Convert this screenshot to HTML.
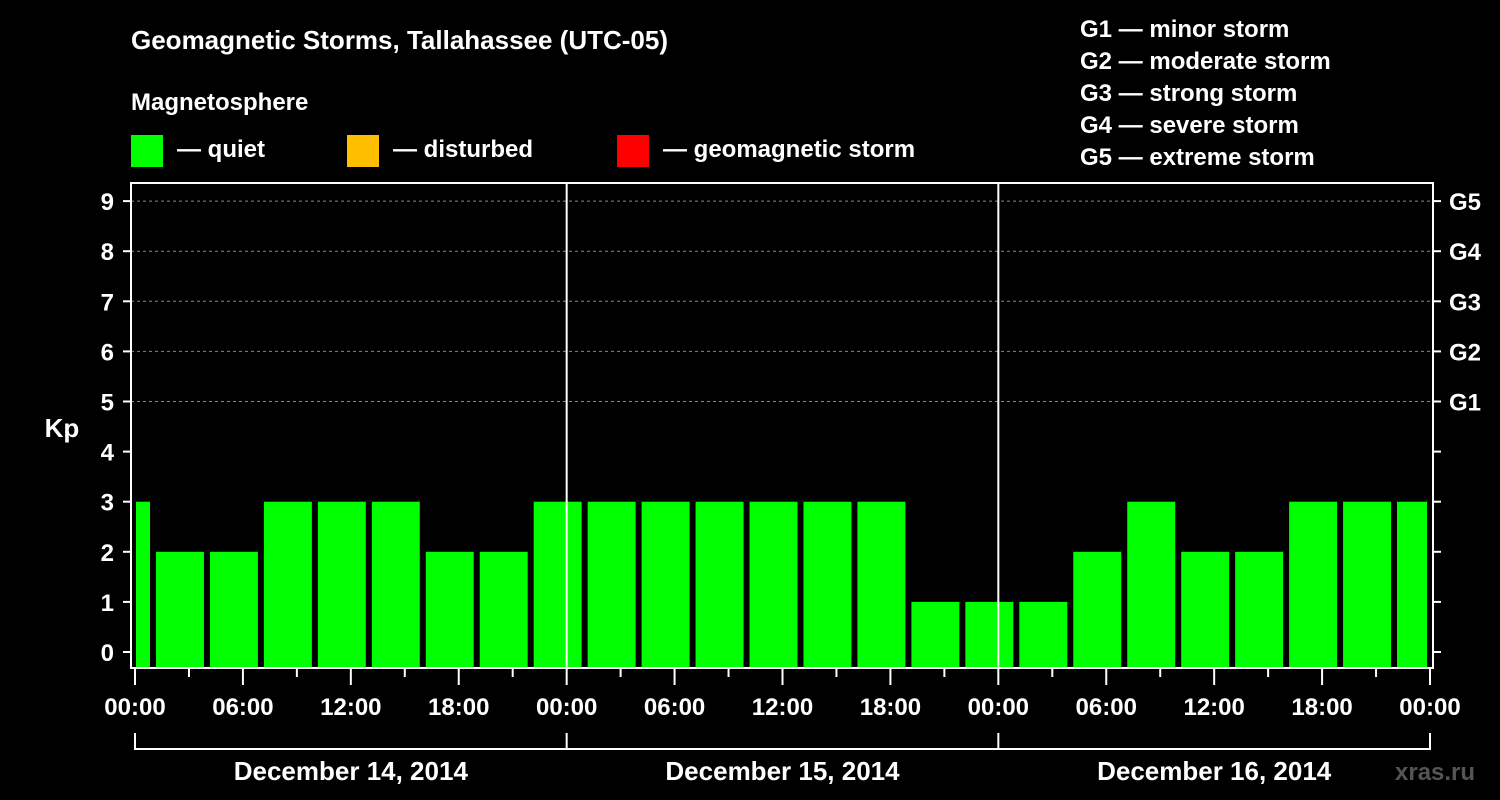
<!DOCTYPE html>
<html><head><meta charset="utf-8"><style>
html,body{margin:0;padding:0;background:#000;}
svg{display:block;font-family:"Liberation Sans",Arial,sans-serif;font-weight:bold;}
</style></head><body>
<svg id="chart" width="1500" height="800" viewBox="0 0 1500 800">
<rect x="0" y="0" width="1500" height="800" fill="#000"/>
<text x="131" y="49" fill="#fff" font-size="26">Geomagnetic Storms, Tallahassee (UTC-05)</text>
<text x="131" y="110" fill="#fff" font-size="24">Magnetosphere</text>
<g><rect x="131" y="135" width="32" height="32" fill="#00ff00"/><text x="177" y="157" fill="#fff" font-size="24">— quiet</text></g>
<g><rect x="347" y="135" width="32" height="32" fill="#ffbf00"/><text x="393" y="157" fill="#fff" font-size="24">— disturbed</text></g>
<g><rect x="617" y="135" width="32" height="32" fill="#ff0000"/><text x="663" y="157" fill="#fff" font-size="24">— geomagnetic storm</text></g>
<g fill="#fff" font-size="24">
<text x="1080" y="37">G1 — minor storm</text>
<text x="1080" y="69">G2 — moderate storm</text>
<text x="1080" y="101">G3 — strong storm</text>
<text x="1080" y="133">G4 — severe storm</text>
<text x="1080" y="165">G5 — extreme storm</text>
</g>
<text x="62" y="437" fill="#fff" font-size="26" text-anchor="middle">Kp</text>
<g id="grid"></g>
<g id="bars"></g>
<g id="axes"></g>
<text x="1395" y="780" fill="#555" font-size="24">xras.ru</text>
</svg>
<script>
const binStartHours = [-2,1,4,7,10,13,16,19,22,25,28,31,34,37,40,43,46,49,52,55,58,61,64,67,70];
const kpValues = [3,2,2,3,3,3,2,2,3,3,3,3,3,3,3,1,1,1,2,3,2,2,3,3,3];
const yTicks = [0,1,2,3,4,5,6,7,8,9];
const gLabels = ["G1","G2","G3","G4","G5"];
const xTickLabels = ["00:00","06:00","12:00","18:00","00:00","06:00","12:00","18:00","00:00","06:00","12:00","18:00","00:00"];
const dayLabels = ["December 14, 2014","December 15, 2014","December 16, 2014"];

const NS="http://www.w3.org/2000/svg";
const X0=135,X1=1430,H=72,PL=131,PR=1433,PT=183,PB=668;
const x=h=>X0+(X1-X0)*h/H;
const y=v=>652-v*50.1;
function mk(t,a,p){const e=document.createElementNS(NS,t);for(const k in a)e.setAttribute(k,a[k]);p.appendChild(e);return e;}
const grid=document.getElementById('grid'),bars=document.getElementById('bars'),axes=document.getElementById('axes');
[5,6,7,8,9].forEach(v=>{const l=mk('line',{x1:PL,x2:PR,y1:y(v),y2:y(v),stroke:'#888','stroke-dasharray':'3,3','stroke-width':1},grid);

});
kpValues.forEach((v,i)=>{const s=Math.max(0,binStartHours[i]),e=Math.min(H,binStartHours[i]+3);
const a=x(s)+(binStartHours[i]<0?1:3),b=x(e)-3;
const c=v>=5?'#ff0000':(v>=4?'#ffbf00':'#00ff00');
const r=mk('rect',{x:a,y:y(v),width:b-a,height:PB-y(v),fill:c},bars);

});
[1,2].forEach(d=>{const l=mk('line',{x1:x(d*24),x2:x(d*24),y1:PT,y2:PB,stroke:'#fff','stroke-width':2},axes);

});
const fr=mk('rect',{x:PL,y:PT,width:PR-PL,height:PB-PT,fill:'none',stroke:'#fff','stroke-width':2},axes);


yTicks.forEach(v=>{mk('line',{x1:123,x2:PL,y1:y(v),y2:y(v),stroke:'#fff','stroke-width':2},axes);
mk('line',{x1:PR,x2:1441,y1:y(v),y2:y(v),stroke:'#fff','stroke-width':2},axes);
const t=mk('text',{x:114,y:y(v)+9,fill:'#fff','font-size':24,'text-anchor':'end'},axes);t.textContent=v;

});
gLabels.forEach((g,i)=>{const t=mk('text',{x:1449,y:y(5+i)+9,fill:'#fff','font-size':24},axes);t.textContent=g;

});
for(let h=0;h<=H;h+=3){const maj=h%6===0;mk('line',{x1:x(h),x2:x(h),y1:PB,y2:maj?685:677,stroke:'#fff','stroke-width':2},axes);}
xTickLabels.forEach((s,i)=>{const t=mk('text',{x:x(i*6),y:715,fill:'#fff','font-size':24,'text-anchor':'middle'},axes);t.textContent=s;

});
mk('line',{x1:x(0),x2:x(H),y1:749,y2:749,stroke:'#fff','stroke-width':2},axes);
for(let d=0;d<=3;d++)mk('line',{x1:x(d*24),x2:x(d*24),y1:733,y2:750,stroke:'#fff','stroke-width':2},axes);
dayLabels.forEach((s,i)=>{const t=mk('text',{x:x(i*24+12),y:780,fill:'#fff','font-size':26,'text-anchor':'middle'},axes);t.textContent=s;

});
</script>
</body></html>
